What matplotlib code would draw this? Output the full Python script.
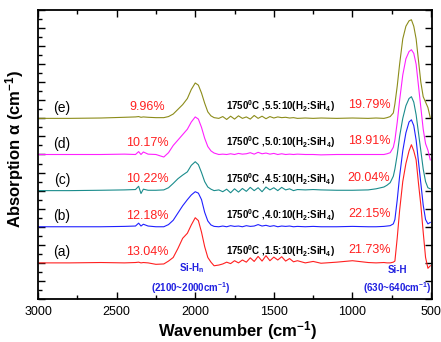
import matplotlib
matplotlib.use("Agg")
import matplotlib.pyplot as plt
from matplotlib.ticker import MultipleLocator

plt.rcParams.update(
    {
        "font.family": ["Liberation Sans", "DejaVu Sans"],
        "mathtext.fontset": "custom",
        "mathtext.rm": "Liberation Sans:bold",
        "mathtext.it": "Liberation Sans:bold",
        "mathtext.bf": "Liberation Sans:bold",
        "mathtext.default": "rm",
    }
)

# wavenumber grid (cm^-1), shared by all spectra
wavenumber = [
    3000, 2800, 2600, 2450, 2380, 2360, 2345, 2330, 2300, 2250,
    2200, 2170, 2140, 2110, 2080, 2050, 2025, 2000, 1980, 1960,
    1940, 1920, 1900, 1880, 1850, 1825, 1800, 1775, 1750, 1725,
    1700, 1675, 1650, 1625, 1600, 1575, 1550, 1525, 1500, 1475,
    1450, 1425, 1400, 1375, 1350, 1300, 1250, 1200, 1100, 1000,
    900, 850, 800, 780, 760, 740, 730, 715, 700, 680,
    660, 640, 625, 610, 595, 580, 565, 550, 535, 520, 505,
]

spec_a = [
    0.0, 0.0, 0.01, 0.0, 0.01, 0.02, 0.0, 0.01, 0.0, -0.04,
    -0.03, 0.05, 0.15, 0.4, 0.68, 0.82, 1.05, 1.25, 1.17, 0.85,
    0.45, 0.15, 0.02, -0.08, -0.06, -0.03, 0.02, -0.02, 0.06, 0.0,
    0.08, 0.02, 0.14, 0.04, 0.18, 0.05, 0.2, 0.06, 0.16, 0.08,
    0.17, 0.05, 0.12, 0.03, 0.06, 0.0, 0.04, -0.01, 0.02, 0.06,
    0.01, 0.0, 0.01, 0.0, 0.0, 0.02, 0.05, 0.7, 1.45, 2.25,
    2.75, 3.1, 3.27, 3.1, 2.85, 2.2, 1.6, 0.85, 0.15, -0.15, -0.08,
]
spec_b = [
    0.0, 0.0, 0.0, 0.01, 0.02, 0.1, 0.02, 0.07, 0.02, 0.0,
    0.0, 0.06, 0.18, 0.38, 0.58, 0.75, 0.88, 0.97, 0.93, 0.75,
    0.4, 0.16, 0.05, 0.01, 0.0, 0.02, 0.0, 0.03, 0.01, 0.02,
    0.0, 0.03, 0.01, 0.02, 0.06, 0.02, 0.04, 0.01, 0.03, 0.0,
    0.02, 0.01, 0.02, 0.0, 0.01, 0.0, 0.01, 0.0, 0.0, 0.01,
    0.0, 0.0, 0.01, 0.02, 0.03, 0.08, 0.2, 0.75, 1.4, 2.1,
    2.6, 2.9, 2.96, 2.8, 2.4, 1.8, 1.2, 0.6, 0.2, 0.08, 0.12,
]
spec_c = [
    0.0, 0.0, 0.01, 0.02, 0.03, 0.12, -0.08, 0.04, 0.01, 0.01,
    0.02, 0.08, 0.2, 0.33, 0.43, 0.52, 0.7, 0.8, 0.72, 0.5,
    0.25, 0.1, 0.04, 0.0, 0.02, -0.03, 0.04, -0.06, 0.05, -0.04,
    0.06, -0.02, 0.09, 0.0, 0.08, -0.03, 0.1, 0.02, 0.08, 0.0,
    0.09, 0.02, 0.05, 0.0, 0.03, 0.02, 0.03, 0.02, 0.01, 0.01,
    0.02, 0.05, 0.1, 0.15, 0.22, 0.4, 0.6, 1.0, 1.5, 2.0,
    2.35, 2.55, 2.6, 2.45, 2.1, 1.6, 1.1, 0.6, 0.25, 0.08, 0.05,
]
spec_d = [
    0.0, 0.0, 0.0, 0.01, 0.0, 0.08, 0.0, 0.07, 0.01, 0.0,
    -0.07, 0.05, 0.25, 0.4, 0.55, 0.7, 0.9, 1.04, 0.98, 0.75,
    0.45, 0.22, 0.1, 0.04, 0.0, 0.01, 0.0, 0.02, 0.0, 0.03,
    0.01, 0.02, 0.05, 0.01, 0.06, 0.02, 0.04, 0.01, 0.03, 0.0,
    0.02, 0.0, 0.01, 0.0, 0.01, 0.0, 0.0, -0.01, 0.0, 0.0,
    0.0, 0.0, 0.0, 0.02, 0.05, 0.2, 0.4, 0.9, 1.5, 2.2,
    2.65, 2.85, 2.9, 2.8, 2.5, 1.9, 1.3, 0.7, 0.3, 0.12, -0.15,
]
spec_e = [
    0.0, 0.0, 0.01, 0.03, 0.04, 0.05, 0.03, 0.04, 0.03, 0.02,
    0.02, 0.05, 0.12, 0.25, 0.38, 0.55, 0.8, 0.98, 0.92, 0.7,
    0.42, 0.18, 0.07, 0.02, 0.0, 0.05, -0.03, 0.06, -0.02, 0.07,
    0.0, 0.04, -0.02, 0.08, 0.0, 0.06, -0.01, 0.05, 0.01, 0.04,
    0.02, 0.03, 0.01, 0.02, 0.0, 0.01, 0.0, 0.01, 0.0, 0.01,
    0.0, 0.01, 0.0, 0.02, 0.05, 0.15, 0.4, 0.9, 1.5, 2.2,
    2.55, 2.7, 2.73, 2.55, 2.2, 1.6, 1.0, 0.6, 0.45, 0.3, 0.02,
]

spectra = [spec_a, spec_b, spec_c, spec_d, spec_e]
offsets = [0, 1, 2, 3, 4]
names = ["(a)", "(b)", "(c)", "(d)", "(e)"]
colors = ["#ff2020", "#2020ff", "#1a8c8c", "#ff20ff", "#8c8c1a"]
ratios = ["1.5", "4.0", "4.5", "5.0", "5.5"]
sihn_pct = ["13.04%", "12.18%", "10.22%", "10.17%", "9.96%"]
sih_pct = ["21.73%", "22.15%", "20.04%", "18.91%", "19.79%"]

fig = plt.figure(figsize=(4.41, 3.42), dpi=100)
ax = fig.add_axes([0.0862, 0.1257, 0.8934, 0.8451])

for spec, off, col in zip(spectra, offsets, colors):
    ax.plot(wavenumber, [v + off for v in spec], color=col, linewidth=0.8)

for i, off in enumerate(offsets):
    ax.text(2847, off + 0.29, names[i], ha="center", va="center", fontsize=10)
    ax.text(2307, off + 0.31, sihn_pct[i], ha="center", va="center",
            fontsize=9, color="#ff2020")
    ax.text(894, off + 0.36, sih_pct[i], ha="center", va="center",
            fontsize=9, color="#ff2020")
    ax.text(1460, off + 0.33,
            "1750$^{0}$C ,%s:10(H$_2$:SiH$_4$)" % ratios[i],
            ha="center", va="center", fontsize=7, fontweight="bold")

ax.text(2024, -0.14, "Si-H$_n$", ha="center", va="center", fontsize=7,
        fontweight="bold", color="#2020e0")
ax.text(2027, -0.69, "(2100~2000cm$^{-1}$)", ha="center", va="center",
        fontsize=7, fontweight="bold", color="#2020e0")
ax.text(716, -0.19, "Si-H", ha="center", va="center", fontsize=7,
        fontweight="bold", color="#2020e0")
ax.text(716, -0.69, "(630~640cm$^{-1}$)", ha="center", va="center",
        fontsize=7, fontweight="bold", color="#2020e0")

ax.set_xlim(3000, 494)
ax.set_ylim(-1, 7)
ax.xaxis.set_major_locator(MultipleLocator(500))
ax.xaxis.set_minor_locator(MultipleLocator(250))
ax.yaxis.set_major_locator(MultipleLocator(0.5))
ax.yaxis.set_minor_locator(MultipleLocator(0.25))
ax.set_yticklabels([])
ax.tick_params(which="major", direction="in", length=5, width=1,
               top=True, right=True, labelsize=9, pad=5)
ax.tick_params(which="minor", direction="in", length=3, width=1,
               top=True, right=False)
for s in ax.spines.values():
    s.set_linewidth(1.3)

ax.set_xlabel("Wavenumber (cm$^{-1}$)", fontsize=12, fontweight="bold")
ax.set_ylabel("Absorption \u03b1 (cm$^{-1}$)", fontsize=12, fontweight="bold")
ax.xaxis.set_label_coords(0.506, -0.068)
ax.yaxis.set_label_coords(-0.03, 0.52)

fig.savefig("out.png", dpi=100)
